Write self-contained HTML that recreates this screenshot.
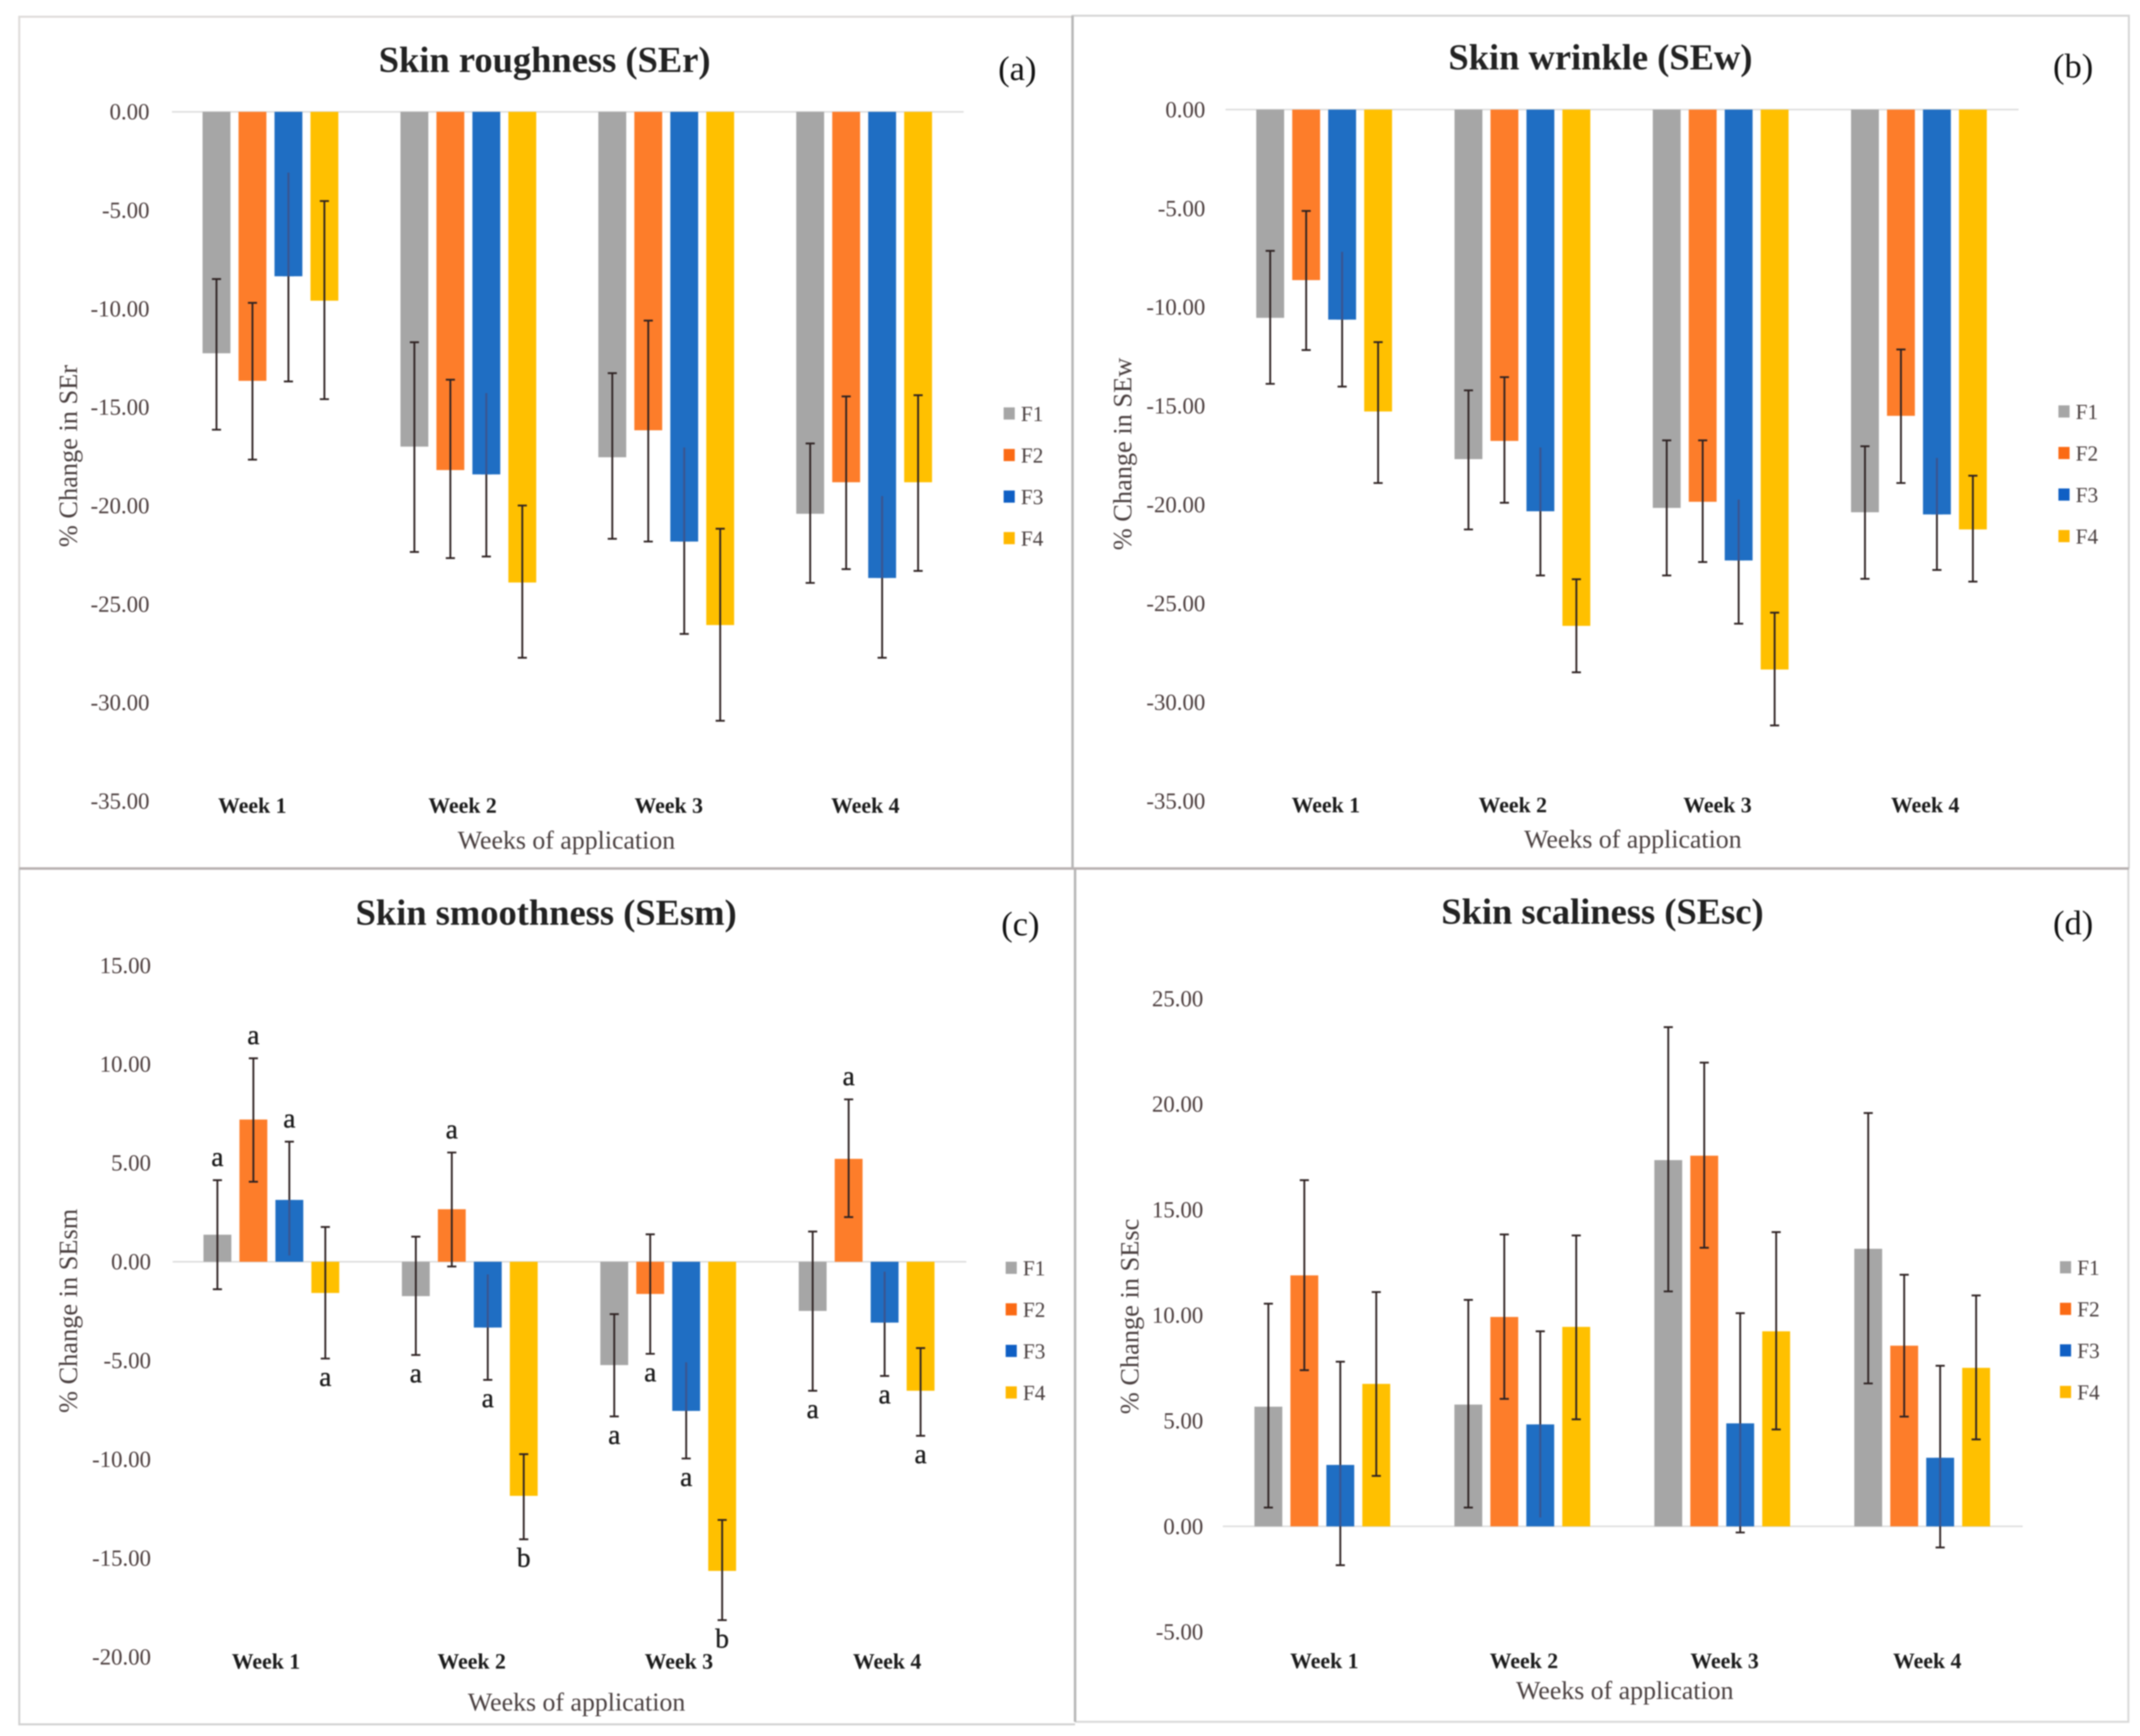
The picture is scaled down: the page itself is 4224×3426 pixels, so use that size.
<!DOCTYPE html>
<html lang="en">
<head>
<meta charset="utf-8">
<title>Skin parameter changes by formulation</title>
<style>
html,body{margin:0;padding:0;background:#fff;width:4224px;height:3426px;overflow:hidden}
svg{display:block;filter:blur(1.4px)}
text{font-family:"Liberation Serif",serif}
</style>
</head>
<body>
<svg id="figure" xmlns="http://www.w3.org/2000/svg" width="4224" height="3426" viewBox="0 0 4224 3426">
<rect x="0" y="0" width="4224" height="3426" fill="#ffffff"/>
<path d="M2117 33H38V1714" fill="none" stroke="#dedcda" stroke-width="4"/>
<path d="M2117 1714V31H4202V1714" fill="none" stroke="#d6d6d6" stroke-width="4"/>
<path d="M38 1714V3403H2122" fill="none" stroke="#d2d2d2" stroke-width="4"/>
<path d="M2122 3398H4201V1714" fill="none" stroke="#dadada" stroke-width="4"/>
<path d="M2117 31V1714" stroke="#b8b8b8" stroke-width="5"/>
<path d="M2122 1714V3398" stroke="#b8b8b8" stroke-width="5"/>
<path d="M38 1714H4202" stroke="#b8b2b2" stroke-width="5"/>
</svg>
<script>
const categories = ['Week 1', 'Week 2', 'Week 3', 'Week 4'];
const seriesNames = ['F1', 'F2', 'F3', 'F4'];
const seriesColors = ['#a6a6a6', '#fd7d2a', '#1f6ec3', '#ffc000'];
const legendColors = ['#a6a6a6', '#fb6a14', '#0f5fc4', '#ffb800'];

const roughnessTicks = [0, -5, -10, -15, -20, -25, -30, -35];
const roughnessF1 = [-12.26, -17.0, -17.54, -20.41];
const roughnessF2 = [-13.66, -18.19, -16.17, -18.81];
const roughnessF3 = [-8.35, -18.41, -21.82, -23.67];
const roughnessF4 = [-9.59, -23.9, -26.06, -18.81];
const roughnessF1High = [-8.49, -11.7, -13.27, -16.84];
const roughnessF2High = [-9.7, -13.6, -10.6, -14.45];
const roughnessF3High = [-3.09, -14.28, -17.04, -19.51];
const roughnessF4High = [-4.53, -19.99, -21.17, -14.39];
const roughnessF1Low = [-16.14, -22.35, -21.68, -23.92];
const roughnessF2Low = [-17.66, -22.66, -21.82, -23.22];
const roughnessF3Low = [-13.69, -22.58, -26.51, -27.72];
const roughnessF4Low = [-14.59, -27.72, -30.92, -23.31];

const wrinkleTicks = [0, -5, -10, -15, -20, -25, -30, -35];
const wrinkleF1 = [-10.54, -17.69, -20.16, -20.38];
const wrinkleF2 = [-8.63, -16.77, -19.85, -15.5];
const wrinkleF3 = [-10.63, -20.33, -22.82, -20.49];
const wrinkleF4 = [-15.28, -26.13, -28.34, -21.25];
const wrinkleF1High = [-7.15, -14.21, -16.74, -17.04];
const wrinkleF2High = [-5.13, -13.54, -16.74, -12.14];
const wrinkleF3High = [-7.2, -17.1, -19.74, -17.63];
const wrinkleF4High = [-11.77, -23.77, -25.46, -18.53];
const wrinkleF1Low = [-13.88, -21.25, -23.58, -23.75];
const wrinkleF2Low = [-12.17, -19.9, -22.9, -18.9];
const wrinkleF3Low = [-14.02, -23.58, -26.02, -23.3];
const wrinkleF4Low = [-18.9, -28.48, -31.17, -23.89];

const smoothnessTicks = [15, 10, 5, 0, -5, -10, -15, -20];
const smoothnessF1 = [1.37, -1.74, -5.23, -2.49];
const smoothnessF2 = [7.2, 2.66, -1.63, 5.21];
const smoothnessF3 = [3.13, -3.33, -7.55, -3.08];
const smoothnessF4 = [-1.58, -11.85, -15.65, -6.53];
const smoothnessF1High = [4.13, 1.27, -2.65, 1.53];
const smoothnessF2High = [10.3, 5.53, 1.39, 8.22];
const smoothnessF3High = [6.08, -0.64, -5.09, -0.5];
const smoothnessF4High = [1.76, -9.74, -13.07, -4.37];
const smoothnessF1Low = [-1.39, -4.72, -7.83, -6.53];
const smoothnessF2Low = [4.05, -0.24, -4.66, 2.26];
const smoothnessF3Low = [0.32, -5.98, -9.96, -5.78];
const smoothnessF4Low = [-4.9, -14.05, -18.14, -8.81];
const smoothnessF1Letters = ['a', 'a', 'a', 'a'];
const smoothnessF2Letters = ['a', 'a', 'a', 'a'];
const smoothnessF3Letters = ['a', 'a', 'a', 'a'];
const smoothnessF4Letters = ['a', 'b', 'b', 'a'];

const scalinessTicks = [25, 20, 15, 10, 5, 0, -5];
const scalinessF1 = [5.67, 5.77, 17.35, 13.15];
const scalinessF2 = [11.89, 9.92, 17.56, 8.56];
const scalinessF3 = [2.91, 4.83, 4.88, 3.25];
const scalinessF4 = [6.75, 9.45, 9.24, 7.51];
const scalinessF1High = [10.55, 10.73, 23.65, 19.58];
const scalinessF2High = [16.4, 13.83, 21.97, 11.92];
const scalinessF3High = [7.8, 9.24, 10.1, 7.61];
const scalinessF4High = [11.1, 13.78, 13.94, 10.94];
const scalinessF1Low = [0.89, 0.89, 11.13, 6.77];
const scalinessF2Low = [7.4, 6.04, 13.2, 5.2];
const scalinessF3Low = [-1.84, 0.42, -0.29, -1.0];
const scalinessF4Low = [2.39, 5.07, 4.59, 4.12];

const SVG_NS = 'http://www.w3.org/2000/svg';
const figure = document.getElementById('figure');

function make(tag, parent, attrs, content) {
  const node = document.createElementNS(SVG_NS, tag);
  Object.keys(attrs).forEach(function (key) { node.setAttribute(key, attrs[key]); });
  if (content !== undefined) node.textContent = content;
  parent.appendChild(node);
  return node;
}

function drawPanel(cfg) {
  const group = make('g', figure, {});
  
  

  const tickMax = Math.max.apply(null, cfg.ticks);
  const tickMin = Math.min.apply(null, cfg.ticks);
  const yOf = function (v) { return cfg.top + (tickMax - v) * (cfg.bottom - cfg.top) / (tickMax - tickMin); };
  const catWidth = (cfg.right - cfg.left) / categories.length;
  const barWidth = 55;
  const barStep = 71;
  const groupWidth = barStep * (seriesNames.length - 1) + barWidth;
  const barX = function (week, s) { return cfg.left + catWidth * week + (catWidth - groupWidth) / 2 + s * barStep - 1; };

  let el = make('text', group, { x: cfg.titleX, y: cfg.titleY, 'text-anchor': 'middle', 'font-size': 72, 'font-weight': 'bold', fill: '#222222' }, cfg.title);
  
  

  el = make('text', group, { x: cfg.tagX, y: cfg.tagY, 'text-anchor': 'middle', 'font-size': 68, fill: '#111111' }, cfg.tag);
  
  

  cfg.ticks.forEach(function (t) {
    const label = make('text', group, { x: cfg.tickX, y: yOf(t) + 15, 'text-anchor': 'end', 'font-size': 45, fill: '#4a3c3c' }, t.toFixed(2));
    
    
  });

  const yc = cfg.yTitleY;
  el = make('text', group, { x: cfg.yTitleX, y: yc, 'text-anchor': 'middle', 'font-size': 52, fill: '#4a4040', transform: 'rotate(-90 ' + cfg.yTitleX + ' ' + yc + ')' }, cfg.yTitle);
  
  

  el = make('text', group, { x: cfg.xTitleX, y: cfg.xTitleY, 'text-anchor': 'middle', 'font-size': 51, fill: '#4a4040' }, 'Weeks of application');
  
  

  categories.forEach(function (c, w) {
    const label = make('text', group, { x: cfg.weekX[w], y: cfg.weekY, 'text-anchor': 'middle', 'font-size': 43, 'font-weight': 'bold', fill: '#1c1c1c' }, c);
    
    
  });

  el = make('line', group, { x1: cfg.left, x2: cfg.right, y1: yOf(0), y2: yOf(0), stroke: '#dcdcdc', 'stroke-width': 3 });
  
  

  seriesNames.forEach(function (name, s) {
    categories.forEach(function (c, w) {
      const v = cfg.values[s][w];
      const bar = make('rect', group, { x: barX(w, s), y: Math.min(yOf(v), yOf(0)), width: barWidth, height: Math.abs(yOf(v) - yOf(0)), fill: seriesColors[s] });
      
      
    });
  });

  seriesNames.forEach(function (name, s) {
    categories.forEach(function (c, w) {
      const cx = barX(w, s) + barWidth / 2;
      const yHigh = yOf(cfg.high[s][w]);
      const yLow = yOf(cfg.low[s][w]);
      const d = 'M' + cx + ' ' + yHigh + 'V' + yLow + 'M' + (cx - 9) + ' ' + yHigh + 'H' + (cx + 9) + 'M' + (cx - 9) + ' ' + yLow + 'H' + (cx + 9);
      const err = make('path', group, { d: d, fill: 'none', stroke: '#2e2222', 'stroke-width': 3.6 });
      
      

      if (name === 'F3') {
        const barTop = Math.min(yOf(cfg.values[s][w]), yOf(0));
        const barBottom = Math.max(yOf(cfg.values[s][w]), yOf(0));
        const segTop = Math.max(barTop, yHigh);
        const segBottom = Math.min(barBottom, yLow);
        if (segBottom > segTop) {
          const coverTop = yHigh > barTop ? segTop - 3 : segTop;
          const coverBottom = yLow < barBottom ? segBottom + 3 : segBottom;
          const fade = make('path', group, { d: 'M' + (cx - 11) + ' ' + coverTop + 'H' + (cx + 11) + 'V' + coverBottom + 'H' + (cx - 11) + 'Z', fill: seriesColors[s] });
          
          
          const faint = make('line', group, { x1: cx, x2: cx, y1: segTop, y2: segBottom, stroke: '#3a5590', 'stroke-width': 4 });
          
          
        }
      }

      if (cfg.letters) {
        const up = cfg.values[s][w] > 0;
        const ly = up ? yHigh - 28 : yLow + 54;
        const letter = make('text', group, { x: cx, y: ly, 'text-anchor': 'middle', 'font-size': 54, fill: '#1c1c1c', stroke: '#1c1c1c', 'stroke-width': 0.7 }, cfg.letters[s][w]);
        
        
      }
    });
  });

  seriesNames.forEach(function (name, s) {
    const ly = cfg.legendY + s * 82;
    const swatch = make('rect', group, { x: cfg.legendX - 2, y: ly - 12, width: 22, height: 24, fill: legendColors[s] });
    
    
    const label = make('text', group, { x: cfg.legendX + 32, y: ly + 15, 'font-size': 42, fill: '#4a4040' }, name);
    
    
  });
}

drawPanel({
  key: 'skin-roughness', title: 'Skin roughness (SEr)', tag: '(a)', yTitle: '% Change in SEr',
  ticks: roughnessTicks,
  values: [roughnessF1, roughnessF2, roughnessF3, roughnessF4],
  high: [roughnessF1High, roughnessF2High, roughnessF3High, roughnessF4High],
  low: [roughnessF1Low, roughnessF2Low, roughnessF3Low, roughnessF4Low],
  left: 339.5, right: 1902, top: 220.7, bottom: 1581,
  tickX: 295, titleX: 1075, titleY: 142, tagX: 2008, tagY: 158,
  yTitleX: 152, yTitleY: 900, xTitleX: 1118, xTitleY: 1675,
  weekX: [498, 913, 1320, 1708], weekY: 1604, legendX: 1983, legendY: 816
});
drawPanel({
  key: 'skin-wrinkle', title: 'Skin wrinkle (SEw)', tag: '(b)', yTitle: '% Change in SEw',
  ticks: wrinkleTicks,
  values: [wrinkleF1, wrinkleF2, wrinkleF3, wrinkleF4],
  high: [wrinkleF1High, wrinkleF2High, wrinkleF3High, wrinkleF4High],
  low: [wrinkleF1Low, wrinkleF2Low, wrinkleF3Low, wrinkleF4Low],
  left: 2419, right: 3984.3, top: 216.3, bottom: 1581,
  tickX: 2379, titleX: 3159, titleY: 137, tagX: 4092, tagY: 153,
  yTitleX: 2233, yTitleY: 896, xTitleX: 3223, xTitleY: 1673,
  weekX: [2617, 2986, 3390, 3800], weekY: 1603, legendX: 4065, legendY: 812
});
drawPanel({
  key: 'skin-smoothness', title: 'Skin smoothness (SEsm)', tag: '(c)', yTitle: '% Change in SEsm',
  ticks: smoothnessTicks,
  values: [smoothnessF1, smoothnessF2, smoothnessF3, smoothnessF4],
  high: [smoothnessF1High, smoothnessF2High, smoothnessF3High, smoothnessF4High],
  low: [smoothnessF1Low, smoothnessF2Low, smoothnessF3Low, smoothnessF4Low],
  letters: [smoothnessF1Letters, smoothnessF2Letters, smoothnessF3Letters, smoothnessF4Letters],
  left: 340.8, right: 1907.4, top: 1905.3, bottom: 3269.8,
  tickX: 298, titleX: 1078, titleY: 1825, tagX: 2014, tagY: 1846,
  yTitleX: 152, yTitleY: 2587, xTitleX: 1138, xTitleY: 3376,
  weekX: [525, 931, 1340, 1751], weekY: 3293, legendX: 1987, legendY: 2502
});
drawPanel({
  key: 'skin-scaliness', title: 'Skin scaliness (SEsc)', tag: '(d)', yTitle: '% Change in SEsc',
  ticks: scalinessTicks,
  values: [scalinessF1, scalinessF2, scalinessF3, scalinessF4],
  high: [scalinessF1High, scalinessF2High, scalinessF3High, scalinessF4High],
  low: [scalinessF1Low, scalinessF2Low, scalinessF3Low, scalinessF4Low],
  left: 2413.7, right: 3992.4, top: 1970.8, bottom: 3220.6,
  tickX: 2375, titleX: 3163, titleY: 1823, tagX: 4092, tagY: 1844,
  yTitleX: 2247, yTitleY: 2598, xTitleX: 3207, xTitleY: 3353,
  weekX: [2614, 3008, 3404, 3804], weekY: 3292, legendX: 4068, legendY: 2501
});
</script>
</body>
</html>
